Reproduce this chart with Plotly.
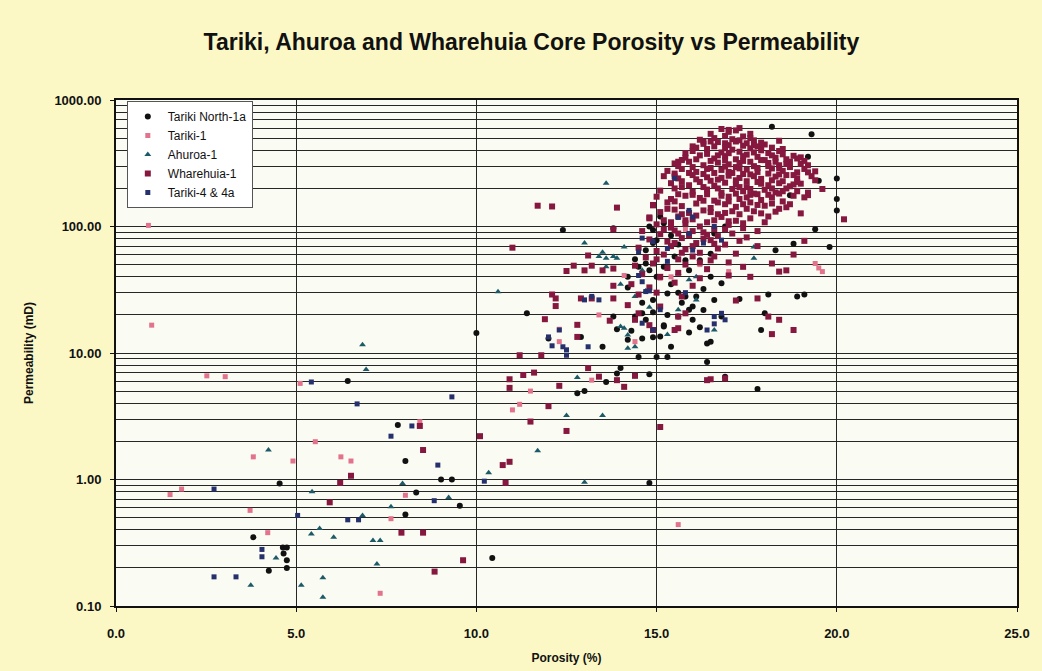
import plotly.graph_objects as go

# Core plug measurements: (porosity %, permeability mD) per well

tariki_north_1a = [
    (10.0, 14.4), (6.43, 6.0), (7.82, 2.7), (8.03, 1.40), (4.54, 0.93), (9.02, 1.0),
    (9.32, 1.0), (8.33, 0.79), (9.54, 0.62), (8.03, 0.53), (3.81, 0.35), (4.63, 0.29),
    (4.74, 0.29), (4.65, 0.26), (4.74, 0.23), (4.74, 0.20), (4.24, 0.19), (10.44, 0.24),
    (12.4, 94), (19.3, 536), (11.4, 20.6), (12.8, 4.8), (13.0, 5.0), (13.6, 5.9),
    (13.9, 15.4), (15.2, 16.6), (13.9, 6.9), (14.0, 7.6), (14.8, 6.8), (15.0, 9.3),
    (15.3, 9.3), (14.6, 20.6), (14.9, 13.3), (15.7, 335), (13.8, 97), (14.9, 94),
    (15.2, 106), (14.7, 65), (14.9, 74), (14.5, 48), (14.7, 51), (15.5, 58),
    (15.8, 54), (16.2, 54), (16.5, 61), (16.6, 88), (16.9, 100), (14.2, 33),
    (14.6, 25), (14.9, 26.3), (15.3, 29.6), (15.8, 28), (16.0, 23.3), (16.3, 21.9),
    (16.6, 26.3), (16.8, 35.6), (13.8, 19.4), (14.4, 19.4), (14.7, 18.3), (15.2, 16.2),
    (15.6, 19.4), (16.0, 18.3), (14.2, 12.7), (14.5, 9.3), (15.4, 11.2), (13.5, 11.2),
    (12.9, 13.4), (12.0, 13.0), (16.4, 11.9), (16.4, 8.5), (16.9, 6.5), (17.9, 15.2),
    (18.0, 20.6), (16.5, 12.3), (16.8, 19.4), (17.3, 26.7), (18.1, 29), (18.9, 28),
    (19.1, 29), (18.7, 177), (19.2, 356), (18.2, 615), (19.5, 230), (20.0, 240),
    (20.0, 165), (20.0, 134), (19.4, 95), (19.8, 69), (18.8, 73), (18.3, 65),
    (17.8, 5.2), (14.8, 0.94),
    (15.0, 40), (15.4, 35), (15.9, 45), (16.3, 32), (14.8, 45), (15.2, 48),
    (15.6, 30), (16.1, 28), (15.9, 22), (15.3, 20), (14.9, 21), (15.7, 25),
    (16.5, 40), (14.3, 15), (14.6, 13), (15.1, 13.5), (15.9, 14.5), (16.2, 16),
    (15.0, 78), (15.6, 72), (15.4, 85), (14.8, 100), (15.1, 120), (14.4, 55), (14.2, 40),
]

tariki_1 = [
    (0.9, 102), (0.99, 16.6), (2.52, 6.6), (3.03, 6.5), (5.11, 5.75), (8.43, 2.86),
    (3.81, 1.51), (4.91, 1.40), (5.53, 1.99), (6.24, 1.51), (6.52, 1.40), (1.82, 0.84),
    (1.5, 0.76), (8.03, 0.75), (7.63, 0.49), (3.72, 0.57), (4.21, 0.38), (7.33, 0.126),
    (15.6, 0.44), (11.0, 3.55), (11.2, 3.93), (11.5, 5.0), (12.3, 15.4), (13.4, 20),
    (14.4, 12.3), (12.3, 12.3), (13.2, 6.1), (15.1, 39), (15.4, 40), (14.1, 41),
    (19.4, 51), (19.5, 47), (19.6, 44), (16.2, 50), (17.0, 44), (15.8, 95),
]

ahuroa_1 = [
    (6.84, 11.6), (6.94, 7.4), (4.23, 1.71), (5.44, 0.80), (7.95, 0.93), (9.23, 0.72),
    (7.63, 0.61), (6.84, 0.52), (5.65, 0.41), (5.42, 0.37), (6.04, 0.35), (7.13, 0.33),
    (7.33, 0.33), (4.44, 0.24), (3.74, 0.146), (5.14, 0.146), (5.74, 0.167), (5.74, 0.117),
    (7.24, 0.215), (10.34, 1.13), (11.7, 1.69), (12.5, 3.2), (13.5, 3.2), (13.6, 220),
    (10.6, 30.5), (13.5, 62.6), (13.6, 56), (13.9, 56), (12.8, 6.4), (14.1, 15.7),
    (14.2, 13.9), (14.1, 69), (13.4, 58), (13.8, 58), (13.6, 48), (13.0, 74),
    (15.9, 38), (16.1, 40), (15.6, 42.5), (14.4, 28), (14.7, 31), (13.0, 0.95),
    (14.4, 11.2), (16.6, 15.2), (14.0, 16.2), (14.2, 10.9), (17.7, 56), (17.7, 69),
    (16.1, 26.3), (14.0, 35), (14.8, 23), (15.3, 14), (15.6, 22), (14.6, 45),
]

wharehuia_1 = [
    # sparse plugs
    (8.43, 2.65), (8.52, 1.71), (6.22, 0.94), (6.52, 1.07), (7.92, 0.38), (8.52, 0.38),
    (8.84, 0.187), (9.63, 0.23), (5.93, 0.66), (11.0, 68), (11.7, 146), (12.1, 144),
    (13.9, 141), (13.8, 95), (12.1, 29), (12.2, 27), (12.9, 27), (13.2, 27),
    (13.8, 34), (13.8, 27), (13.1, 59), (13.2, 49), (12.7, 49), (12.5, 44.5),
    (13.0, 45), (13.5, 45), (13.8, 46.5), (11.3, 6.7), (11.6, 7.0), (11.2, 9.6),
    (11.8, 9.6), (10.92, 5.3), (10.92, 6.2), (12.3, 5.5), (13.1, 7.6), (13.4, 6.5),
    (13.9, 6.1), (14.1, 5.4), (14.4, 6.6), (11.5, 2.87), (12.0, 3.8), (12.5, 2.42),
    (15.1, 2.6), (10.81, 0.94), (11.9, 18.5), (13.7, 18), (12.2, 23.5), (14.2, 23.9),
    (12.8, 16.7), (12.8, 13.4), (14.4, 18.3), (14.5, 20.6), (15.6, 19.4), (15.8, 20.6),
    (15.6, 15.7), (14.8, 16.6), (14.9, 147), (14.8, 116), (15.6, 325), (15.5, 249),
    (17.0, 580), (18.4, 476), (17.9, 425), (19.0, 352), (19.4, 273), (19.6, 198),
    (19.2, 177), (20.2, 114), (19.0, 127), (19.1, 77), (18.8, 60), (18.2, 51),
    (18.6, 45), (18.4, 44), (17.8, 27), (17.6, 40), (18.4, 18.3), (18.8, 15.2),
    (18.2, 14.1), (18.1, 19.4), (17.2, 26), (16.5, 6.2), (16.9, 6.3), (16.4, 6.1),
    (15.1, 23.3), (14.9, 15.2), (15.5, 15.2), (10.73, 1.30), (10.92, 1.38), (10.1, 2.2),
    # main high-permeability cluster
    (16.8, 590), (17.0, 560), (17.3, 600), (17.6, 540),
    (16.6, 500), (16.9, 520), (17.1, 490), (17.4, 515), (17.7, 480), (16.3, 470),
    (16.3, 450), (16.7, 465), (17.0, 440), (17.2, 470), (17.5, 455), (17.8, 430), (18.0, 445), (16.0, 430),
    (16.0, 395), (16.4, 410), (16.8, 385), (17.1, 405), (17.3, 390), (17.6, 415), (17.9, 400),
    (18.1, 380), (18.4, 395), (15.8, 380),
    (15.8, 350), (16.2, 365), (16.6, 345), (16.9, 360), (17.2, 340), (17.5, 370), (17.8, 355),
    (18.0, 335), (18.3, 350), (18.6, 340), (18.8, 362),
    (15.5, 315), (15.9, 325), (16.3, 305), (16.7, 320), (17.0, 310), (17.4, 330), (17.7, 300),
    (18.1, 318), (18.4, 305), (18.7, 325), (19.0, 312), (17.2, 295),
    (15.3, 275), (15.7, 285), (16.1, 270), (16.5, 290), (16.8, 280), (17.1, 265), (17.5, 282),
    (17.8, 270), (18.2, 288), (18.5, 275), (18.9, 268), (19.1, 285),
    (15.2, 250), (15.6, 240), (16.0, 255), (16.4, 245), (16.7, 235), (17.0, 252), (17.3, 242),
    (17.6, 258), (17.9, 238), (18.3, 248), (18.6, 255), (18.9, 240), (19.3, 250),
    (15.4, 220), (15.9, 212), (16.2, 225), (16.6, 210), (16.9, 222), (17.2, 215), (17.5, 205),
    (17.8, 225), (18.1, 212), (18.4, 220), (18.7, 208), (19.0, 218),
    (15.1, 192), (15.5, 200), (16.0, 188), (16.4, 196), (16.8, 185), (17.1, 198), (17.4, 190),
    (17.7, 182), (18.0, 195), (18.3, 186), (18.6, 200), (18.9, 190), (19.2, 185),
    (15.0, 172), (15.4, 165), (15.8, 175), (16.2, 168), (16.6, 160), (17.0, 172), (17.3, 165),
    (17.6, 178), (17.9, 162), (18.2, 170), (18.5, 158),
    (14.9, 148), (15.3, 155), (15.7, 145), (16.1, 152), (16.5, 140), (16.9, 150), (17.2, 143),
    (17.6, 155), (18.0, 146), (18.4, 138), (18.7, 150),
    (15.1, 130), (15.5, 136), (15.9, 128), (16.3, 134), (16.7, 125), (17.1, 132), (17.5, 138),
    (17.9, 127), (18.3, 131),
    (14.8, 118), (15.2, 112), (15.6, 120), (16.0, 114), (16.4, 108), (16.8, 119), (17.2, 111),
    (17.6, 116), (18.0, 108),
    (15.0, 104), (15.4, 98), (15.8, 106), (16.2, 100), (16.6, 95), (17.0, 103), (17.4, 97), (17.8, 92),
    (14.6, 92), (15.1, 87), (15.5, 93), (15.9, 85), (16.3, 90), (16.7, 84), (17.1, 88), (17.5, 82),
    (14.8, 79), (15.3, 76), (15.7, 81), (16.1, 74), (16.5, 78), (16.9, 72), (17.3, 77), (17.8, 70),
    (14.5, 68), (15.0, 64), (15.4, 70), (15.8, 66), (16.2, 62), (16.7, 67), (17.2, 61),
    (14.7, 57), (15.2, 60), (15.6, 55), (16.0, 58), (16.5, 54), (17.0, 52),
    (14.4, 49), (14.9, 51), (15.3, 47), (15.8, 50), (16.4, 46), (17.4, 48),
    (14.6, 42), (15.1, 40), (15.6, 43), (16.2, 39), (17.0, 41),
    (14.3, 35), (14.8, 33), (15.5, 36), (16.0, 34),
    (14.5, 29), (15.0, 30), (15.7, 28),
    # densest core
    (16.5, 540), (17.2, 575), (16.2, 485), (16.5, 470), (16.9, 455), (17.3, 480), (17.6, 500), (17.9, 460),
    (16.1, 420), (16.6, 430), (16.9, 420), (17.4, 435), (17.7, 440), (18.2, 420), (18.5, 410),
    (16.4, 375), (16.7, 365), (17.0, 380), (17.4, 360), (17.7, 385), (18.2, 365), (18.5, 372), (18.9, 345),
    (15.7, 335), (16.1, 340), (16.5, 330), (16.9, 335), (17.3, 318), (17.6, 325), (17.9, 335),
    (18.3, 325), (18.6, 312), (19.1, 330),
    (15.6, 300), (16.0, 295), (16.4, 285), (16.9, 298), (17.3, 288), (17.8, 290), (18.1, 300),
    (18.4, 290), (18.7, 295), (19.2, 305),
    (15.5, 262), (15.9, 265), (16.3, 260), (16.6, 265), (17.0, 270), (17.4, 260), (17.7, 250),
    (18.1, 262), (18.4, 258), (18.8, 255), (19.2, 268),
    (15.7, 228), (16.1, 236), (16.5, 230), (16.8, 242), (17.2, 232), (17.5, 228), (17.9, 218),
    (18.2, 232), (18.5, 228), (18.9, 225), (19.4, 232),
    (15.7, 205), (16.3, 205), (16.7, 200), (17.3, 205), (17.6, 198), (18.2, 200), (18.5, 190), (18.8, 215),
    (15.6, 180), (16.0, 178), (16.4, 180), (16.8, 175), (17.2, 182), (17.5, 170), (17.8, 180),
    (18.1, 178), (18.4, 182), (18.8, 175), (19.1, 170),
    (15.5, 158), (16.3, 160), (16.7, 155), (17.0, 158), (17.4, 150), (17.8, 148), (18.2, 152), (18.6, 142),
    (15.3, 138), (15.7, 125), (16.1, 122), (16.5, 130), (16.9, 128), (17.3, 125), (17.7, 132), (18.1, 120),
    (15.4, 108), (15.8, 112), (16.6, 112), (17.0, 110), (17.4, 106), (15.2, 95), (15.6, 88),
    (16.0, 92), (16.4, 86), (16.9, 95),
    (15.5, 74), (16.0, 70), (16.3, 80), (16.6, 73), (15.0, 55), (15.7, 62), (16.2, 52), (16.6, 58),
]

tariki_4_4a = [
    (5.42, 5.9), (6.69, 3.96), (9.32, 4.5), (7.63, 2.2), (8.21, 2.65), (8.93, 1.30),
    (2.72, 0.84), (8.83, 0.68), (5.04, 0.52), (6.43, 0.48), (6.73, 0.48), (4.05, 0.28),
    (4.05, 0.245), (2.72, 0.17), (3.33, 0.17), (10.22, 0.97), (12.5, 9.6), (12.5, 10.6),
    (12.4, 11.2), (12.1, 11.4), (12.0, 13.4), (13.1, 11.2), (15.5, 240), (15.6, 118),
    (15.9, 134), (16.6, 100), (16.8, 20.6), (16.6, 19.4), (16.9, 18.3), (14.6, 36.6),
    (14.7, 30.6), (14.5, 41), (16.0, 65), (16.3, 74), (16.8, 78), (15.9, 88),
    (16.0, 119), (13.4, 26.3), (13.0, 26.3), (13.2, 28), (14.6, 17.2), (14.9, 15.2),
    (12.3, 15.2), (14.5, 63), (14.6, 81), (14.9, 76), (15.3, 67), (15.3, 53),
    (14.8, 31), (15.1, 22), (16.4, 15.2), (16.6, 17), (15.8, 30),
]

series = [
    ("Tariki North-1a", tariki_north_1a, "#111111", "circle", 6),
    ("Tariki-1", tariki_1, "#E3738C", "square", 5),
    ("Ahuroa-1", ahuroa_1, "#1D5A68", "triangle-up", 6),
    ("Wharehuia-1", wharehuia_1, "#86173F", "square", 6),
    ("Tariki-4 & 4a", tariki_4_4a, "#26306C", "square", 5),
]

fig = go.Figure()
for name, pts, color, symbol, size in series:
    fig.add_trace(go.Scatter(
        x=[p[0] for p in pts],
        y=[p[1] for p in pts],
        mode="markers",
        name=name,
        marker=dict(color=color, symbol=symbol, size=size, line=dict(width=0)),
    ))

grid_col = "#262626"
fig.update_layout(
    width=1042, height=671,
    margin=dict(l=116, r=25, t=100, b=65),
    paper_bgcolor="#FBF8C6",
    plot_bgcolor="#FAFBF2",
    font=dict(family="Liberation Sans, Arial, sans-serif", color="#111111", size=12),
    title=dict(
        text="<b>Tariki, Ahuroa and Wharehuia Core Porosity vs Permeability</b>",
        x=0.51, xanchor="center", xref="container",
        y=0.937, yanchor="middle", yref="container",
        font=dict(size=23, color="#111111"),
    ),
    showlegend=True,
    legend=dict(
        x=0.012, y=0.998, xanchor="left", yanchor="top",
        bgcolor="#FFFFFF", bordercolor="#555555", borderwidth=1,
        font=dict(size=12, color="#111111"),
        itemsizing="trace", tracegroupgap=0, itemwidth=30,
    ),
)

fig.update_xaxes(
    range=[0, 25], dtick=5, tick0=0, tickformat=".1f",
    showgrid=True, gridcolor=grid_col, gridwidth=1,
    showline=True, linecolor="#111111", linewidth=2, mirror=True,
    ticks="outside", ticklen=4, tickcolor="#111111",
    ticklabelstandoff=10, automargin=False,
    tickfont=dict(size=13, weight="bold"),
    zeroline=False,
    title=dict(text="<b>Porosity (%)</b>", font=dict(size=12), standoff=14),
)

fig.update_yaxes(
    type="log", range=[-1, 3], dtick=1, tickformat=".2f",
    showgrid=True, gridcolor=grid_col, gridwidth=1.4,
    minor=dict(dtick="D1", showgrid=True, gridcolor=grid_col, gridwidth=1.4, ticks=""),
    showline=True, linecolor="#111111", linewidth=2, mirror=True,
    ticks="outside", ticklen=4, tickcolor="#111111",
    ticklabelstandoff=6, automargin=False,
    tickfont=dict(size=13, weight="bold"),
    zeroline=False,
    title=dict(text="<b>Permeability (mD)</b>", font=dict(size=12), standoff=18),
)

fig.write_html("out.html")
